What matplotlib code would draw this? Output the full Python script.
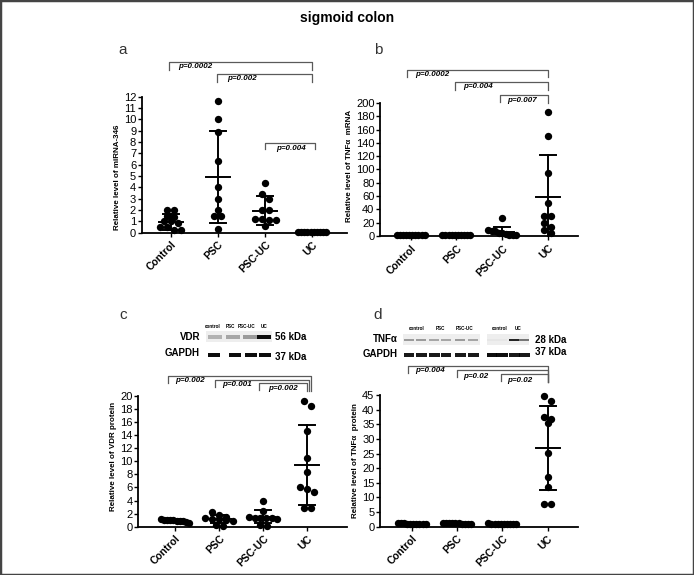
"""Sigmoid colon: miRNA-346, TNFa mRNA, VDR and TNFa protein scatter panels."""

import matplotlib
matplotlib.use("Agg")
import matplotlib.pyplot as plt
import numpy as np
from matplotlib.patches import Rectangle
from matplotlib.transforms import blended_transform_factory

plt.rcParams["font.family"] = ["Liberation Sans", "DejaVu Sans"]

W, H = 694, 575

CATEGORIES = ["Control", "PSC", "PSC-UC", "UC"]

# panel a: relative level of miRNA-346
mirna_control = [2.0, 2.0, 1.5, 1.4, 1.0, 1.0, 0.9, 0.5, 0.5, 0.2, 0.2]
mirna_psc = [11.6, 10.0, 8.9, 6.3, 4.0, 3.0, 2.0, 1.5, 1.5, 0.3]
mirna_psc_uc = [4.4, 3.4, 3.0, 2.0, 2.0, 1.2, 1.2, 1.1, 1.1, 0.6]
mirna_uc = [0.05, 0.04, 0.05, 0.03, 0.05, 0.04, 0.05, 0.04, 0.03, 0.05]
mirna_mean = [0.97, 4.9, 1.95, 0.04]
mirna_sd = [0.7, 4.05, 1.25, 0.01]

# panel b: relative level of TNFa mRNA
tnf_mrna_control = [1.2, 1.0, 1.1, 0.9, 1.0, 0.8, 1.0, 1.1, 0.9, 1.0]
tnf_mrna_psc = [1.0, 1.2, 0.9, 1.0, 1.1, 0.8, 1.0, 0.9, 1.1, 1.0]
tnf_mrna_psc_uc = [27, 9, 8, 7, 5, 4, 3, 2, 2, 1]
tnf_mrna_uc = [187, 150, 95, 49, 30, 30, 19, 13, 9, 5]
tnf_mrna_mean = [1.0, 1.0, 6.5, 59.0]
tnf_mrna_sd = [0.2, 0.2, 7.6, 63.0]

# panel c: relative level of VDR protein
vdr_control = [1.2, 1.1, 1.1, 1.0, 1.0, 0.9, 0.9, 0.8, 0.7, 0.6]
vdr_psc = [2.3, 1.8, 1.5, 1.3, 1.2, 1.2, 1.1, 0.9, 0.2, 0.1]
vdr_psc_uc = [3.9, 2.4, 1.5, 1.4, 1.4, 1.3, 1.3, 1.2, 0.3, 0.1]
vdr_uc = [19.2, 18.5, 14.6, 10.5, 8.3, 6.1, 5.7, 5.3, 2.8, 2.8]
vdr_mean = [0.92, 1.17, 1.53, 9.4]
vdr_sd = [0.2, 0.55, 1.02, 6.1]

# panel d: relative level of TNFa protein
tnf_prot_control = [1.1, 1.0, 0.9, 1.0, 1.2, 0.8, 1.0, 1.1, 0.9, 1.0]
tnf_prot_psc = [1.2, 1.1, 1.0, 1.0, 1.3, 1.1, 0.9, 1.2, 1.0, 1.1]
tnf_prot_psc_uc = [1.0, 0.9, 0.8, 1.0, 0.9, 1.1, 0.8, 0.9, 1.0, 0.9]
tnf_prot_uc = [44.6, 42.9, 37.4, 36.8, 35.3, 25.2, 17.1, 13.4, 7.6, 7.6]
tnf_prot_mean = [1.0, 1.1, 0.9, 26.9]
tnf_prot_sd = [0.15, 0.15, 0.1, 14.3]

# western blot band intensities (0 = empty lane, 1 = saturated)
vdr_bands = [0.25, 0.3, 0.35, 0.95]
vdr_gapdh_bands = [0.95, 0.95, 0.95, 0.95]
tnf_bands = [0.35, 0.35, 0.3, 0.3, 0.35, 0.3, 0.03, 0.03, 0.85, 0.5]
tnf_gapdh_bands = [0.9, 0.9, 0.9, 0.9, 0.9, 0.9, 0.95, 0.95, 0.9, 0.9]


def fx(x):
    return x / W


def fy(y):
    return 1 - y / H


def swarm_offsets(values, px_per_unit, step_px=7.0, max_half_px=14.0):
    """Spread points that sit on the same level sideways (pixel offsets)."""
    values = np.asarray(values, dtype=float)
    order = np.argsort(-values, kind="stable")
    rows = []
    for i in order:
        y = values[i] * px_per_unit
        if rows and abs(rows[-1][0] - y) < step_px * 0.8:
            rows[-1][1].append(i)
        else:
            rows.append([y, [i]])
    offsets = np.zeros(len(values))
    for _, idx in rows:
        n = len(idx)
        if n == 1:
            continue
        step = min(step_px, 2 * max_half_px / (n - 1))
        for k, i in enumerate(idx):
            offsets[i] = (k - (n - 1) / 2) * step
    return offsets


def draw_panel(fig, rect_px, xlim, groups, means, sds, ymax, ystep, ylabel, label_y=0.5):
    left, right, bottom, top = rect_px
    ax = fig.add_axes([fx(left), fy(bottom), (right - left) / W, (bottom - top) / H])
    ax.set_xlim(*xlim)
    ax.set_ylim(0, ymax)
    spacing = (right - left) / (xlim[1] - xlim[0])
    ppu = (bottom - top) / ymax

    for i, vals in enumerate(groups):
        off = swarm_offsets(vals, ppu)
        ax.scatter(i + off / spacing, vals, s=28, color="black", linewidths=0,
                   zorder=3, clip_on=False)
        m, sd = means[i], sds[i]
        ax.plot([i - 12 / spacing, i + 12 / spacing], [m, m], color="black",
                lw=1.4, zorder=4, clip_on=False)
        lo = max(m - sd, 0)
        ax.plot([i, i], [lo, m + sd], color="black", lw=1.4, zorder=4, clip_on=False)
        ax.plot([i - 8 / spacing, i + 8 / spacing], [m + sd, m + sd], color="black",
                lw=1.4, zorder=4, clip_on=False)
        if m - sd > 0:
            ax.plot([i - 8 / spacing, i + 8 / spacing], [m - sd, m - sd],
                    color="black", lw=1.4, zorder=4, clip_on=False)

    ax.set_yticks(np.arange(0, ymax + ystep / 2, ystep))
    ax.set_xticks(range(len(CATEGORIES)))
    ax.set_xticklabels(CATEGORIES, rotation=45, ha="right", rotation_mode="anchor",
                       fontsize=7.5, fontweight="bold")
    ax.tick_params(axis="y", labelsize=8, length=3, width=1, pad=1)
    ax.tick_params(axis="x", length=3, width=1, pad=2)
    for side in ("top", "right"):
        ax.spines[side].set_visible(False)
    for side in ("left", "bottom"):
        ax.spines[side].set_linewidth(1.3)
    ax.set_ylabel(ylabel, fontsize=5.8, fontweight="bold", labelpad=2)
    ax.yaxis.label.set_y(label_y)
    return ax


def draw_brackets(fig, ax, brackets, right_end, right_drop):
    """brackets: (start category, line y px, left drop px, text y px, text x px, label)"""
    trans = blended_transform_factory(ax.transData, fig.transFigure)
    for k, (start, y, drop, ty, tx, label) in enumerate(brackets):
        xr = right_end[k]
        ax.plot([start, start, xr, xr], [fy(y + drop), fy(y), fy(y), fy(right_drop[k])],
                color="#5a5a5a", lw=0.9, transform=trans, clip_on=False)
        fig.text(fx(tx), fy(ty), label, fontsize=5.8, fontweight="bold",
                 style="italic", va="center", ha="left")


def draw_blot_row(fig, lanes_x, y, width, height, intensities):
    for xc, a in zip(lanes_x, intensities):
        fig.add_artist(Rectangle((fx(xc - width / 2), fy(y + height / 2)), width / W,
                                 height / H, transform=fig.transFigure,
                                 facecolor="black", alpha=a, lw=0))


fig = plt.figure(figsize=(W / 100, H / 100), dpi=100)
fig.add_artist(Rectangle((0, 0), 1, 1, transform=fig.transFigure, fill=False,
                         edgecolor="#444444", lw=2.5))
fig.text(fx(347), fy(18), "sigmoid colon", fontsize=10, fontweight="bold",
         ha="center", va="center")
for letter, (x, y) in zip("abcd", [(123, 50), (378, 50), (123, 315), (378, 315)]):
    fig.text(fx(x), fy(y), letter, fontsize=11, color="#333333", ha="center", va="center")

# panel a
ax_a = draw_panel(fig, (141.7, 347, 232.7, 96.7), (-0.62, 3.74),
                  [mirna_control, mirna_psc, mirna_psc_uc, mirna_uc],
                  mirna_mean, mirna_sd, 12, 1, "Relative level of miRNA-346", label_y=0.41)
draw_brackets(fig, ax_a,
              [(-0.05, 61.7, 8, 66.5, 178, "p=0.0002"),
               (0.98, 74, 8, 78.5, 227, "p=0.002"),
               (2.0, 142.7, 6, 148, 276, "p=0.004")],
              [3.0, 3.0, 3.05], [70, 82, 149])

# panel b
ax_b = draw_panel(fig, (380, 578, 236, 103), (-0.67, 3.66),
                  [tnf_mrna_control, tnf_mrna_psc, tnf_mrna_psc_uc, tnf_mrna_uc],
                  tnf_mrna_mean, tnf_mrna_sd, 200, 20, "Relative level of TNFα  mRNA",
                  label_y=0.53)
draw_brackets(fig, ax_b,
              [(-0.07, 70, 7, 75, 415, "p=0.0002"),
               (0.98, 81.7, 8, 87, 463, "p=0.004"),
               (1.95, 95, 7, 100.5, 507, "p=0.007")],
              [3.0, 3.0, 3.0], [77, 90, 103])

# panel c
ax_c = draw_panel(fig, (138, 347, 526.7, 396), (-0.84, 3.9),
                  [vdr_control, vdr_psc, vdr_psc_uc, vdr_uc],
                  vdr_mean, vdr_sd, 20, 2, "Relative level of VDR protein", label_y=0.54)
draw_brackets(fig, ax_c,
              [(-0.16, 376, 7, 381, 175, "p=0.002"),
               (0.9, 379.5, 7, 384, 222, "p=0.001"),
               (1.9, 383, 7, 389, 268, "p=0.002")],
              [3.08, 3.04, 3.0], [391, 391, 391])

# panel d
ax_d = draw_panel(fig, (380, 578, 526.7, 395), (-0.70, 3.67),
                  [tnf_prot_control, tnf_prot_psc, tnf_prot_psc_uc, tnf_prot_uc],
                  tnf_prot_mean, tnf_prot_sd, 45, 5, "Relative level of TNFα  protein")
draw_brackets(fig, ax_d,
              [(-0.09, 366, 7, 371, 415, "p=0.004"),
               (1.0, 370, 7, 376, 463, "p=0.02"),
               (1.98, 374.3, 7, 380, 507, "p=0.02")],
              [3.0, 3.0, 3.0], [382, 382, 382])

# blot c (VDR / GAPDH)
fig.add_artist(Rectangle((fx(206), fy(342)), 66 / W, 11 / H, transform=fig.transFigure,
                         facecolor="#eeeeee", lw=0))
draw_blot_row(fig, [215, 233, 250, 264], 337, 14, 3.5, vdr_bands)
draw_blot_row(fig, [214, 235, 251, 265], 355, 12, 3.5, vdr_gapdh_bands)
for name, x in zip(["control", "PSC", "PSC-UC", "UC"], [213, 230, 247, 264]):
    fig.text(fx(x), fy(327), name, fontsize=3.3, fontweight="bold", ha="center", va="center")
fig.text(fx(200), fy(337), "VDR", fontsize=7, fontweight="bold", ha="right", va="center")
fig.text(fx(200), fy(353), "GAPDH", fontsize=7, fontweight="bold", ha="right", va="center")
fig.text(fx(275), fy(337), "56 kDa", fontsize=7, fontweight="bold", ha="left", va="center")
fig.text(fx(275), fy(357), "37 kDa", fontsize=7, fontweight="bold", ha="left", va="center")

# blot d (TNFa / GAPDH)
fig.add_artist(Rectangle((fx(403), fy(345)), 77 / W, 11 / H, transform=fig.transFigure,
                         facecolor="#eeeeee", lw=0))
fig.add_artist(Rectangle((fx(487), fy(345)), 42 / W, 11 / H, transform=fig.transFigure,
                         facecolor="#eeeeee", lw=0))
tnf_lanes = [409, 421, 434, 446, 460, 473, 492, 502, 514, 524]
draw_blot_row(fig, tnf_lanes, 340, 10, 2.5, tnf_bands)
draw_blot_row(fig, tnf_lanes, 355, 11, 3.5, tnf_gapdh_bands)
for name, x in zip(["control", "PSC", "PSC-UC", "control", "UC"], [417, 440, 465, 500, 518]):
    fig.text(fx(x), fy(329), name, fontsize=3.3, fontweight="bold", ha="center", va="center")
fig.text(fx(398), fy(339), "TNFα", fontsize=7, fontweight="bold", ha="right", va="center")
fig.text(fx(398), fy(354), "GAPDH", fontsize=7, fontweight="bold", ha="right", va="center")
fig.text(fx(535), fy(340), "28 kDa", fontsize=7, fontweight="bold", ha="left", va="center")
fig.text(fx(535), fy(352), "37 kDa", fontsize=7, fontweight="bold", ha="left", va="center")

fig.savefig("out.png", dpi=100)
plt.close(fig)
